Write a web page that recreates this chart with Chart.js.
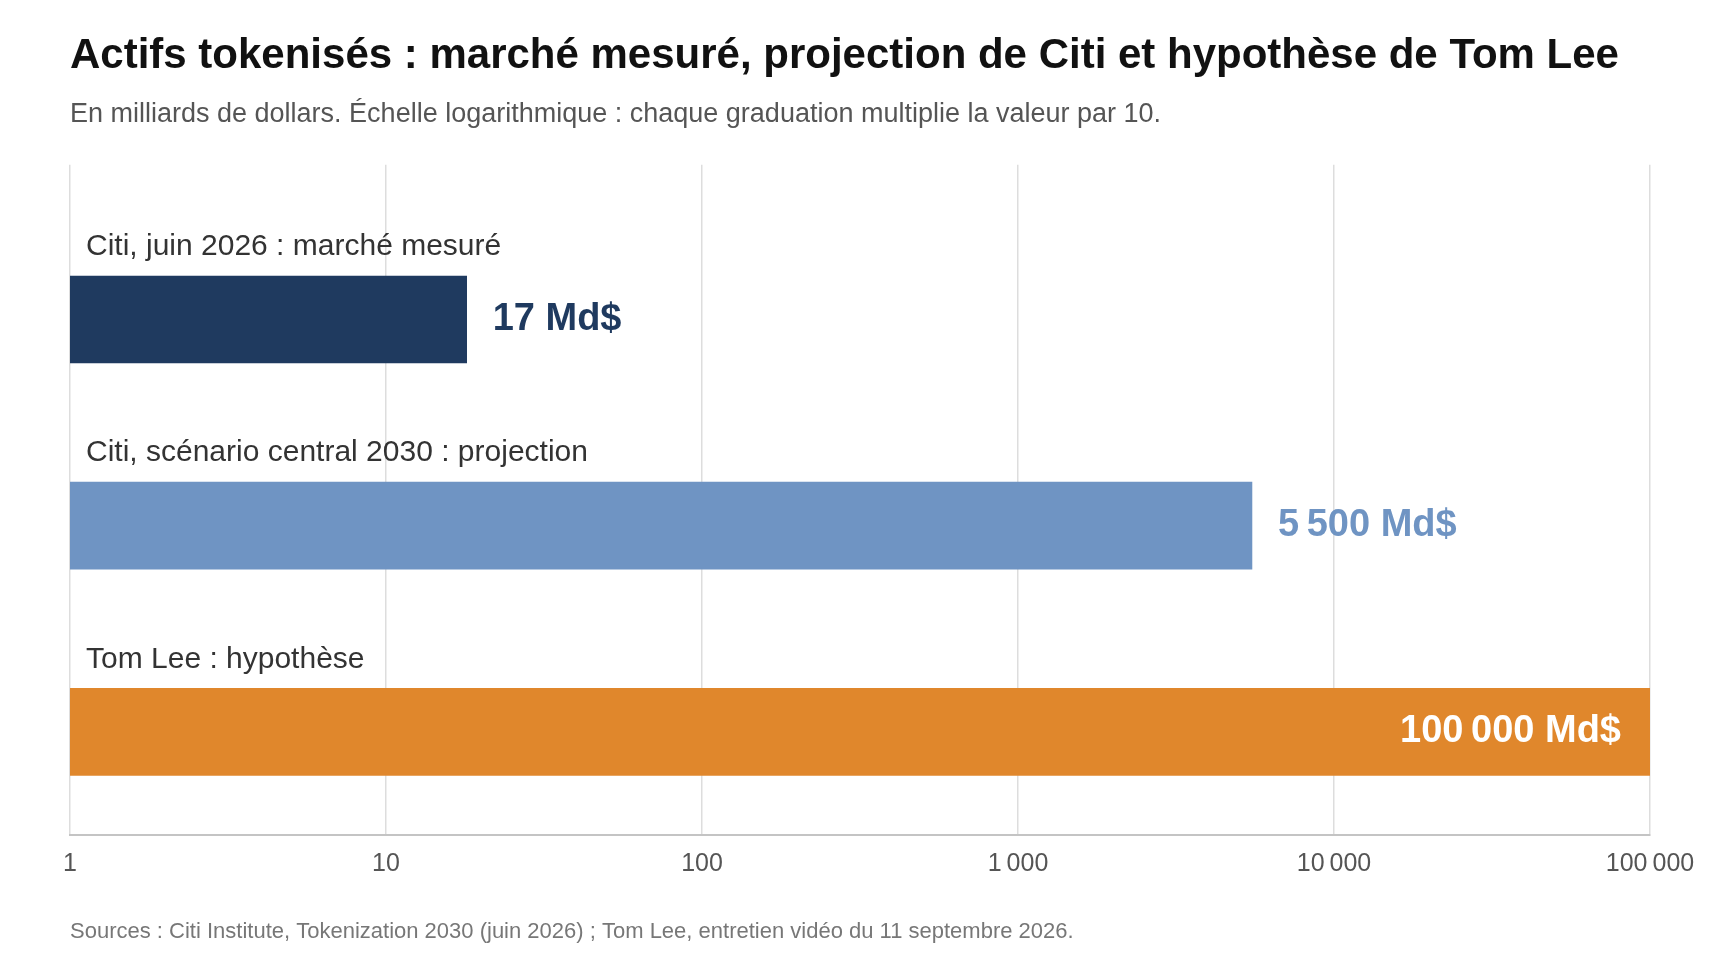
<!DOCTYPE html>
<html lang="fr">
<head>
<meta charset="utf-8">
<title>Actifs tokenisés</title>
<script src="https://cdn.jsdelivr.net/npm/chart.js@4/dist/chart.umd.min.js"></script>
<style>
    html, body { margin: 0; padding: 0; background: #fff; }
    #wrap { width: 1728px; height: 972px; }
</style>
</head>
<body>
<div id="wrap"><canvas id="graficoTokens"></canvas></div>
<script>
const categories = ['Citi, juin 2026 : marché mesuré', 'Citi, scénario central 2030 : projection', 'Tom Lee : hypothèse'];
const values = [18, 5500, 100000];
const valueLabels = ['17 Md$', '5\u202F500 Md$', '100\u202F000 Md$'];
const barColors = ['#1f3a5f', '#6f94c3', '#e0872c'];
const tickValues = [1, 10, 100, 1000, 10000, 100000];

const FONT = "'Liberation Sans', Arial, sans-serif";

const labelsPlugin = {
    id: 'barLabels',
    afterDatasetsDraw(chart) {
        const ctx = chart.ctx;
        const area = chart.chartArea;
        const meta = chart.getDatasetMeta(0);
        ctx.save();
        ctx.textBaseline = 'middle';
        meta.data.forEach(function(bar, i) {
            const top = bar.y - bar.height / 2;
            // category label above the bar
            ctx.font = '30px ' + FONT;
            ctx.fillStyle = '#333333';
            ctx.textAlign = 'left';
            ctx.fillText(categories[i], area.left + 16, top - 29);

            // value label, outside unless it does not fit
            ctx.font = 'bold 38px ' + FONT;
            const w = ctx.measureText(valueLabels[i]).width;
            if (bar.x + 26 + w > area.right) {
                ctx.fillStyle = '#ffffff';
                ctx.textAlign = 'right';
                ctx.fillText(valueLabels[i], bar.x - 29, bar.y);
            } else {
                ctx.fillStyle = barColors[i];
                ctx.textAlign = 'left';
                ctx.fillText(valueLabels[i], bar.x + 26, bar.y);
            }
        });
        ctx.restore();
    }
};

const footerPlugin = {
    id: 'footerText',
    afterDraw(chart) {
        const ctx = chart.ctx;
        ctx.save();
        ctx.font = '22px ' + FONT;
        ctx.fillStyle = '#777777';
        ctx.textAlign = 'left';
        ctx.textBaseline = 'middle';
        ctx.fillText('Sources : Citi Institute, Tokenization 2030 (juin 2026) ; Tom Lee, entretien vidéo du 11 septembre 2026.', chart.chartArea.left, 932);
        ctx.restore();
    }
};

document.addEventListener('DOMContentLoaded', function() {
    const ctxTokens = document.getElementById('graficoTokens');
    new Chart(ctxTokens, {
        type: 'bar',
        data: {
            datasets: [{
                data: values.map(function(v, i) { return { x: v, y: i }; }),
                backgroundColor: barColors,
                borderWidth: 0,
                barThickness: 87
            }]
        },
        options: {
            indexAxis: 'y',
            responsive: true,
            maintainAspectRatio: false,
            animation: false,
            layout: {
                padding: { left: 70, right: 78, top: 0, bottom: 79 }
            },
            plugins: {
                legend: { display: false },
                tooltip: { enabled: false },
                title: {
                    display: true,
                    text: 'Actifs tokenisés : marché mesuré, projection de Citi et hypothèse de Tom Lee',
                    align: 'start',
                    color: '#111111',
                    font: { family: FONT, size: 42, weight: 'bold', lineHeight: 1.2 },
                    padding: { top: 31, bottom: 17 }
                },
                subtitle: {
                    display: true,
                    text: 'En milliards de dollars. Échelle logarithmique : chaque graduation multiplie la valeur par 10.',
                    align: 'start',
                    color: '#555555',
                    font: { family: FONT, size: 27, lineHeight: 1.2 },
                    padding: { top: 0, bottom: 34 }
                }
            },
            scales: {
                x: {
                    type: 'logarithmic',
                    position: 'bottom',
                    min: 1,
                    max: 100000,
                    afterBuildTicks: function(scale) {
                        scale.ticks = tickValues.map(function(v) { return { value: v }; });
                    },
                    grid: {
                        color: '#dddddd',
                        lineWidth: 1.5,
                        drawTicks: false
                    },
                    border: {
                        display: true,
                        color: '#c4c4c4',
                        width: 2
                    },
                    ticks: {
                        padding: 14,
                        color: '#555555',
                        font: { family: FONT, size: 25 },
                        maxRotation: 0,
                        autoSkip: false,
                        callback: function(value) {
                            return Number(value).toLocaleString('fr-FR');
                        }
                    }
                },
                y: {
                    type: 'linear',
                    display: false,
                    reverse: true,
                    offset: false,
                    bounds: 'data',
                    grace: 0,
                    min: -0.75,
                    max: 2.5
                }
            }
        },
        plugins: [labelsPlugin, footerPlugin]
    });
});
</script>
</body>
</html>
